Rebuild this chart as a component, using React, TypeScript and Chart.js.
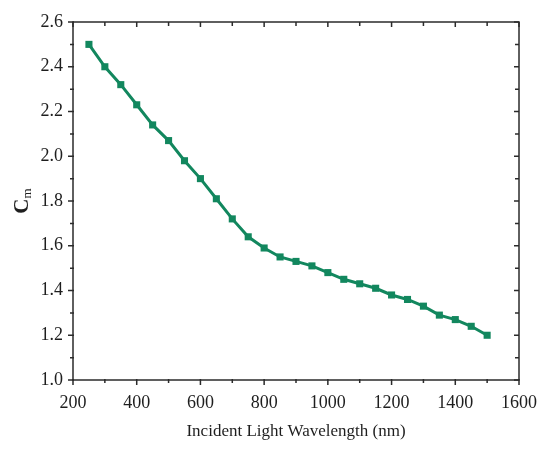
import React, { useEffect, useRef } from "react";
import { Chart, registerables } from "chart.js";

Chart.register(...registerables);

const wavelengths = [250, 300, 350, 400, 450, 500, 550, 600, 650, 700, 750, 800, 850, 900, 950, 1000, 1050, 1100, 1150, 1200, 1250, 1300, 1350, 1400, 1450, 1500];
const cmValues = [2.50, 2.40, 2.32, 2.23, 2.14, 2.07, 1.98, 1.90, 1.81, 1.72, 1.64, 1.59, 1.55, 1.53, 1.51, 1.48, 1.45, 1.43, 1.41, 1.38, 1.36, 1.33, 1.29, 1.27, 1.24, 1.20];
const xMajorTicks = [200, 400, 600, 800, 1000, 1200, 1400, 1600];
const xMinorTicks = [300, 500, 700, 900, 1100, 1300, 1500];
const yMajorTicks = [1.0, 1.2, 1.4, 1.6, 1.8, 2.0, 2.2, 2.4, 2.6];
const yMinorTicks = [1.1, 1.3, 1.5, 1.7, 1.9, 2.1, 2.3, 2.5];
const xTitle = "Incident Light Wavelength (nm)";
const yTitleMain = "C";
const yTitleSub = "m";

const GREEN = "#12875e";
const AXIS = "#2b2b2b";
const TEXT = "#1e1e1e";
const SERIF = "'Liberation Serif', 'Times New Roman', serif";

const framePlugin = {
  id: "frameTicks",
  afterDraw(chart: any) {
    const { ctx, chartArea, scales } = chart;
    const xs = scales.x;
    const ys = scales.y;
    const { left, right, top, bottom } = chartArea;
    ctx.save();
    ctx.strokeStyle = AXIS;
    ctx.lineWidth = 1.5;
    ctx.strokeRect(left, top, right - left, bottom - top);
    ctx.beginPath();
    const major = 5;
    const minor = 3;
    xMajorTicks.forEach((v) => {
      const px = xs.getPixelForValue(v);
      ctx.moveTo(px, bottom - 1);
      ctx.lineTo(px, bottom + major);
      ctx.moveTo(px, top);
      ctx.lineTo(px, top + major);
    });
    xMinorTicks.forEach((v) => {
      const px = xs.getPixelForValue(v);
      ctx.moveTo(px, bottom - 1);
      ctx.lineTo(px, bottom + minor);
      ctx.moveTo(px, top);
      ctx.lineTo(px, top + major - 1);
    });
    yMajorTicks.forEach((v) => {
      const py = ys.getPixelForValue(v);
      ctx.moveTo(left + 1, py);
      ctx.lineTo(left - major, py);
      ctx.moveTo(right, py);
      ctx.lineTo(right - major, py);
    });
    yMinorTicks.forEach((v) => {
      const py = ys.getPixelForValue(v);
      ctx.moveTo(left + 1, py);
      ctx.lineTo(left - minor, py);
      ctx.moveTo(right, py);
      ctx.lineTo(right - major + 1, py);
    });
    ctx.stroke();

    // x title
    ctx.fillStyle = TEXT;
    ctx.font = `17px ${SERIF}`;
    ctx.textAlign = "center";
    ctx.textBaseline = "middle";
    ctx.fillText(xTitle, (left + right) / 2, 432);

    // y title
    ctx.translate(21, 201);
    ctx.rotate(-Math.PI / 2);
    ctx.font = `bold 21px ${SERIF}`;
    const wMain = ctx.measureText(yTitleMain).width;
    ctx.font = `13px ${SERIF}`;
    const wSub = ctx.measureText(yTitleSub).width;
    const start = -(wMain + wSub) / 2;
    ctx.textAlign = "left";
    ctx.textBaseline = "alphabetic";
    ctx.font = `bold 21px ${SERIF}`;
    ctx.fillText(yTitleMain, start, 7);
    ctx.font = `13px ${SERIF}`;
    ctx.fillText(yTitleSub, start + wMain, 10);
    ctx.restore();
  },
};

export default function App() {
  const ref = useRef<HTMLCanvasElement>(null);
  useEffect(() => {
    document.body.style.margin = "0";
    const canvas = ref.current;
    if (!canvas) return;
    const chart = new Chart(canvas, {
      type: "line",
      data: {
        datasets: [
          {
            data: wavelengths.map((w, i) => ({ x: w, y: cmValues[i] })),
            borderColor: GREEN,
            backgroundColor: GREEN,
            borderWidth: 3,
            pointStyle: "rect",
            pointRadius: 5,
            pointBorderWidth: 0,
            pointBackgroundColor: GREEN,
            tension: 0,
          },
        ],
      },
      options: {
        animation: false,
        responsive: false,
        devicePixelRatio: 1,
        layout: { padding: { top: 22, right: 31, left: 0, bottom: 0 } },
        plugins: { legend: { display: false }, tooltip: { enabled: false } },
        scales: {
          x: {
            type: "linear",
            min: 200,
            max: 1600,
            afterFit: (s: any) => {
              s.height = 74;
            },
            afterBuildTicks: (s: any) => {
              s.ticks = xMajorTicks.map((v) => ({ value: v }));
            },
            ticks: {
              font: { family: SERIF, size: 18 },
              color: TEXT,
              padding: 12,
              maxRotation: 0,
              autoSkip: false,
              callback: (v: any) => String(v),
            },
            grid: { display: false, drawTicks: false },
            border: { display: false },
          },
          y: {
            type: "linear",
            min: 1.0,
            max: 2.6,
            afterFit: (s: any) => {
              s.width = 73;
            },
            afterBuildTicks: (s: any) => {
              s.ticks = yMajorTicks.map((v) => ({ value: v }));
            },
            ticks: {
              font: { family: SERIF, size: 18 },
              color: TEXT,
              padding: 10,
              autoSkip: false,
              callback: (v: any) => Number(v).toFixed(1),
            },
            grid: { display: false, drawTicks: false },
            border: { display: false },
          },
        },
      },
      plugins: [framePlugin],
    });
    return () => chart.destroy();
  }, []);
  return (
    <div style={{ position: "absolute", left: 0, top: 0, width: 550, height: 454, background: "#fff" }}>
      <canvas ref={ref} width={550} height={454} style={{ display: "block" }} />
    </div>
  );
}
